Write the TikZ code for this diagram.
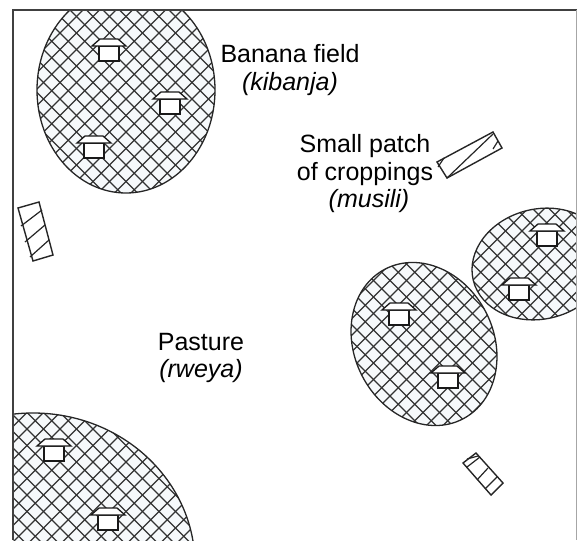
\documentclass[tikz,border=0pt]{standalone}
\usepackage{fontspec}
\setmainfont{Liberation Sans}
\definecolor{fieldtint}{RGB}{246,249,251}
\tikzset{
  fieldline/.style={draw=black!85, line width=1.3pt},
  hatchline/.style={draw=black!80, line width=1.3pt},
  patch/.style={draw=black!85, line width=1.4pt, fill=white},
  patchline/.style={draw=black!85, line width=1.2pt},
  framerule/.style={draw=black!75, line width=1.4pt},
  landlabel/.style={font=\fontsize{25}{27.5}\selectfont, align=center},
  house/.pic={
    \draw[draw=black!90, line width=1.3pt, fill=white] (-10,0) rectangle (10,15);
    \draw[draw=black!90, line width=1.3pt, fill=white] (-17,0) -- (-9,-7) -- (9,-7) -- (17,0) -- cycle;
  },
}
% one hatched field: #1 = ellipse centre, #2 = ellipse options
\newcommand{\hatchfield}[2]{
  \fill[fieldtint] (#1) ellipse [#2];
  \begin{scope}
    \clip (#1) ellipse [#2];
    \foreach \c in {-600,-583.5,...,1200} {
      \draw[hatchline] (\c,0) -- ++(600,600);
      \draw[hatchline] (\c,0) -- ++(-600,600);
    }
  \end{scope}
  \draw[fieldline] (#1) ellipse [#2];
}

\begin{document}
\begin{tikzpicture}[x=1pt, y=-1pt]
\useasboundingbox (0,0) rectangle (577,540);

% ── Fields, clipped by the frame ──────────────────────────────────────────────
\begin{scope}
  \clip (13,10) rectangle (577,540);
  \hatchfield{126,90}{x radius=89, y radius=103}
  \hatchfield{424,344}{x radius=84.4, y radius=69.6, rotate=-62.7}
  \hatchfield{540,264}{x radius=68.7, y radius=55, rotate=13.8}
  \hatchfield{33,565}{x radius=162, y radius=152}
\end{scope}

% ── Frame ─────────────────────────────────────────────────────────────────────
\draw[framerule] (13,540) -- (13,10) -- (577,10);
\draw[draw=black!35, line width=1pt] (576.5,10) -- (576.5,540);

% ── Houses ────────────────────────────────────────────────────────────────────
\foreach \hx/\hy in {109/46, 170/99, 94/143, 547/231, 519/285, 399/310, 448/373, 54/446, 108/515}
  \pic at (\hx,\hy) {house};

% ── Small patches ─────────────────────────────────────────────────────────────
\draw[patch] (18,208) -- (39,202) -- (53,255) -- (33,261) -- cycle;
\draw[patchline] (21,226) -- (42,210)
  (25,242) -- (45,225) (30,257) -- (49,240);

\draw[patch] (437,162) -- (493,132) -- (502,148) -- (447,178) -- cycle;
\draw[patchline] (447,178) -- (493,134)
  (438,167) -- (444,158) (493,149) -- (498,141);

\draw[patch] (463,463) -- (476,453) -- (503,483) -- (491,495) -- cycle;
\draw[patchline] (467,459) -- (478,456)
  (467,467) -- (480,457) (477,480) -- (488,468) (485,489) -- (497,477);

% ── Labels ────────────────────────────────────────────────────────────────────
\node[landlabel] (banana) at (290,70) {Banana field\\\textit{(kibanja)}};
\node[landlabel] (musili) at (365,174) {Small patch\\of croppings\\\hspace{8pt}\textit{(musili)}};
\node[landlabel] (pasture) at (201,358) {Pasture\\\textit{(rweya)}};

\end{tikzpicture}
\end{document}
